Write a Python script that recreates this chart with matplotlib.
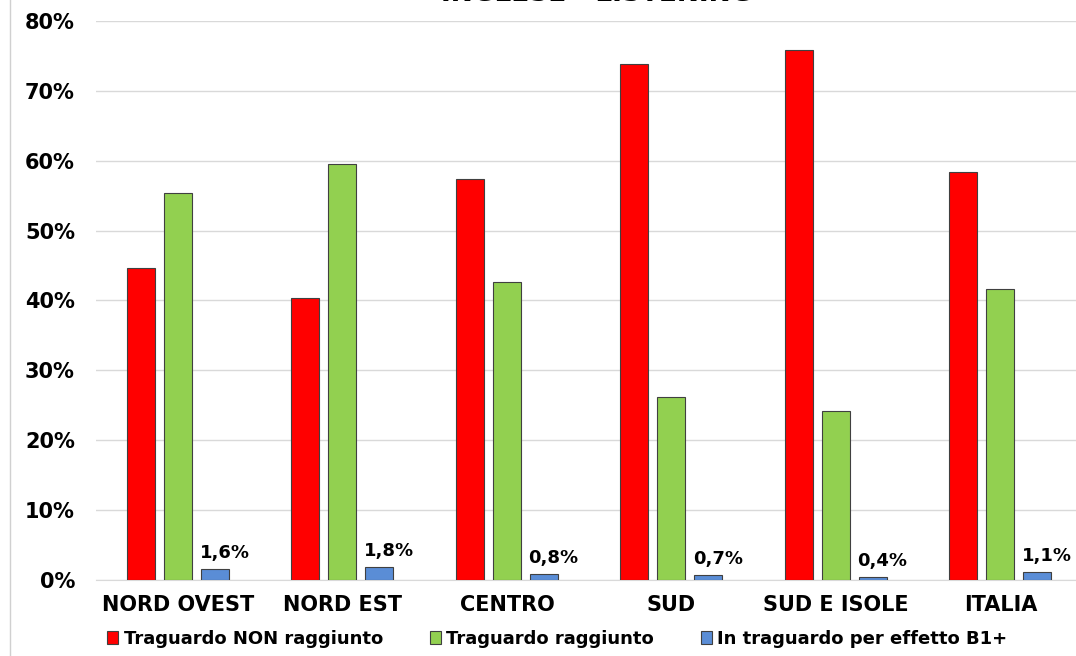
import matplotlib.pyplot as plt
import matplotlib.lines as mlines
import numpy as np

categories = ["NORD OVEST", "NORD EST", "CENTRO", "SUD", "SUD E ISOLE", "ITALIA"]
non_raggiunto = [44.6, 40.4, 57.4, 73.8, 75.8, 58.4]
raggiunto = [55.4, 59.6, 42.6, 26.2, 24.2, 41.6]
effetto_b1 = [1.6, 1.8, 0.8, 0.7, 0.4, 1.1]
b1_labels = ["1,6%", "1,8%", "0,8%", "0,7%", "0,4%", "1,1%"]

plt.rcParams["font.family"] = "DejaVu Sans"
plt.rcParams["font.weight"] = "bold"

fig = plt.figure(figsize=(10.76, 6.56), dpi=100)
ax = fig.add_axes([0.089, 0.116, 0.911, 0.852])

x = np.arange(len(categories))
w = 0.17
off = 0.225
edge = "#404040"
ax.bar(x - off, non_raggiunto, w, color="#FF0000", edgecolor=edge, linewidth=0.8,
       label="Traguardo NON raggiunto", zorder=3)
ax.bar(x, raggiunto, w, color="#92D050", edgecolor=edge, linewidth=0.8,
       label="Traguardo raggiunto", zorder=3)
bars = ax.bar(x + off, effetto_b1, w, color="#5A8DD6", edgecolor=edge, linewidth=0.8,
              label="In traguardo per effetto B1+", zorder=3)

# data labels only on the blue series
for b, lab in zip(bars, b1_labels):
    ax.annotate(lab, (b.get_x() + b.get_width() / 2, b.get_height()),
                xytext=(7, 5), textcoords="offset points",
                ha="center", va="bottom", fontsize=13, fontweight="bold")

ax.set_ylim(0, 80)
ax.set_xlim(-0.5, 5.46)
ax.set_yticks(range(0, 81, 10))
ax.set_yticklabels([f"{v}%" for v in range(0, 81, 10)], fontsize=15, fontweight="bold")
ax.set_xticks(x)
ax.set_xticklabels(categories, fontsize=15, fontweight="bold")
ax.tick_params(length=0)
ax.tick_params(axis="y", pad=15)
ax.tick_params(axis="x", pad=11)
ax.grid(axis="y", color="#D9D9D9", linewidth=1, zorder=0)
for s in ["top", "right", "left"]:
    ax.spines[s].set_visible(False)
ax.spines["bottom"].set_color("#D9D9D9")

# title sits mostly above the visible area, as in the cropped source
fig.text(0.555, 0.998, "INGLESE - LISTENING", ha="center", va="baseline",
         fontsize=19, fontweight="bold")

# thin frame line on the left
fig.add_artist(mlines.Line2D([0.0095, 0.0095], [0, 1], color="#D0D0D0", linewidth=1))

handles, labels = ax.get_legend_handles_labels()
fig.legend(handles, labels, loc="center", bbox_to_anchor=(0.518, 0.026), ncol=3,
           frameon=False, fontsize=13, handlelength=0.6, handleheight=0.7,
           handletextpad=0.3, columnspacing=2.6)

fig.savefig("out.png", dpi=100)
